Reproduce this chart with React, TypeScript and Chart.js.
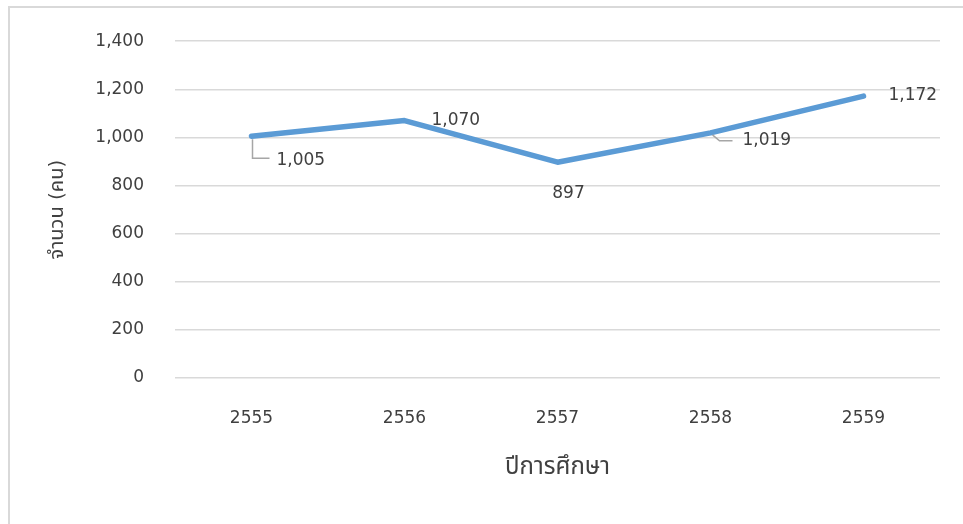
import React, { useEffect, useRef } from "react";
import { Chart, registerables } from "chart.js";

Chart.register(...registerables);

const categories: string[] = ["2555", "2556", "2557", "2558", "2559"];
const studentCounts: number[] = [1005, 1070, 897, 1019, 1172];
const yTickMax = 1400;
const yTickStep = 200;
const xTitle = "ปีการศึกษา";
const yTitle = "จำนวน (คน)";

const FONT = '"DejaVu Sans", "Noto Sans Thai", "Noto Sans", sans-serif';
const TEXT = "#404040";

// label placement relative to each point
const labelPlacement: { dx: number; dy: number; align: CanvasTextAlign; leader?: "elbow" | "diag" }[] = [
  { dx: 25, dy: 24, align: "left", leader: "elbow" },
  { dx: 27, dy: 0, align: "left" },
  { dx: 11, dy: 31, align: "center" },
  { dx: 32, dy: 8, align: "left", leader: "diag" },
  { dx: 25, dy: 0, align: "left" },
];

const labelPlugin = {
  id: "pointLabels",
  afterDatasetsDraw(chart: any) {
    const ctx = chart.ctx;
    const meta = chart.getDatasetMeta(0);
    const data = chart.data.datasets[0].data as number[];
    ctx.save();
    ctx.font = `17px ${FONT}`;
    ctx.fillStyle = TEXT;
    ctx.textBaseline = "middle";
    meta.data.forEach((pt: any, i: number) => {
      const p = labelPlacement[i];
      const x = pt.x + p.dx;
      const y = pt.y + p.dy;
      if (p.leader) {
        ctx.strokeStyle = "#a6a6a6";
        ctx.lineWidth = 1.5;
        ctx.beginPath();
        if (p.leader === "elbow") {
          ctx.moveTo(pt.x + 1, pt.y + 3);
          ctx.lineTo(pt.x + 1, y - 2);
          ctx.lineTo(x - 7, y - 2);
        } else {
          ctx.moveTo(pt.x + 2, pt.y + 2);
          ctx.lineTo(pt.x + 9, y);
          ctx.lineTo(x - 10, y);
        }
        ctx.stroke();
      }
      ctx.textAlign = p.align;
      ctx.fillText(data[i].toLocaleString("en-US"), x, y);
    });
    ctx.restore();
  },
};

export default function App() {
  const ref = useRef<HTMLCanvasElement | null>(null);
  useEffect(() => {
    if (!ref.current) return;
    const chart = new Chart(ref.current, {
      type: "line",
      data: {
        labels: categories,
        datasets: [
          {
            data: studentCounts,
            borderColor: "#5b9bd5",
            backgroundColor: "#5b9bd5",
            borderWidth: 5.5,
            pointRadius: 0,
            pointHoverRadius: 0,
            borderCapStyle: "round",
            borderJoinStyle: "round",
            tension: 0,
          },
        ],
      },
      options: {
        responsive: false,
        animation: false,
        events: [],
        layout: { padding: { left: 0, top: 41, right: 23, bottom: 0 } },
        plugins: { legend: { display: false }, tooltip: { enabled: false } },
        scales: {
          x: {
            offset: true,
            grid: { display: false, drawTicks: false },
            border: { display: false },
            ticks: { color: TEXT, font: { family: FONT, size: 17 }, padding: 30 },
            title: {
              display: true,
              text: xTitle,
              color: TEXT,
              font: { family: FONT, size: 24 },
              padding: { top: 0, bottom: 42 },
            },
            afterFit: (s: any) => {
              s.height = 146;
            },
          },
          y: {
            min: 0,
            max: yTickMax,
            ticks: {
              stepSize: yTickStep,
              color: TEXT,
              font: { family: FONT, size: 17 },
              padding: 31,
              callback: (v: any) => Number(v).toLocaleString("en-US"),
            },
            grid: { color: "#d9d9d9", lineWidth: 1.5, drawTicks: false },
            border: { display: false },
            title: {
              display: true,
              text: yTitle,
              color: TEXT,
              font: { family: FONT, size: 20 },
              padding: { top: 46, bottom: 0 },
            },
            afterFit: (s: any) => {
              s.width = 175;
            },
          },
        },
      },
      plugins: [labelPlugin],
    });
    return () => chart.destroy();
  }, []);

  return (
    <div style={{ position: "absolute", left: 0, top: 0, width: 963, height: 524, background: "#fff", overflow: "hidden" }}>
      <div
        style={{
          position: "absolute",
          left: 8,
          top: 6,
          width: 1000,
          height: 600,
          borderLeft: "2px solid #d9d9d9",
          borderTop: "2px solid #d9d9d9",
        }}
      />
      <canvas ref={ref} width={963} height={524} style={{ position: "absolute", left: 0, top: 0, display: "block" }} />
    </div>
  );
}
